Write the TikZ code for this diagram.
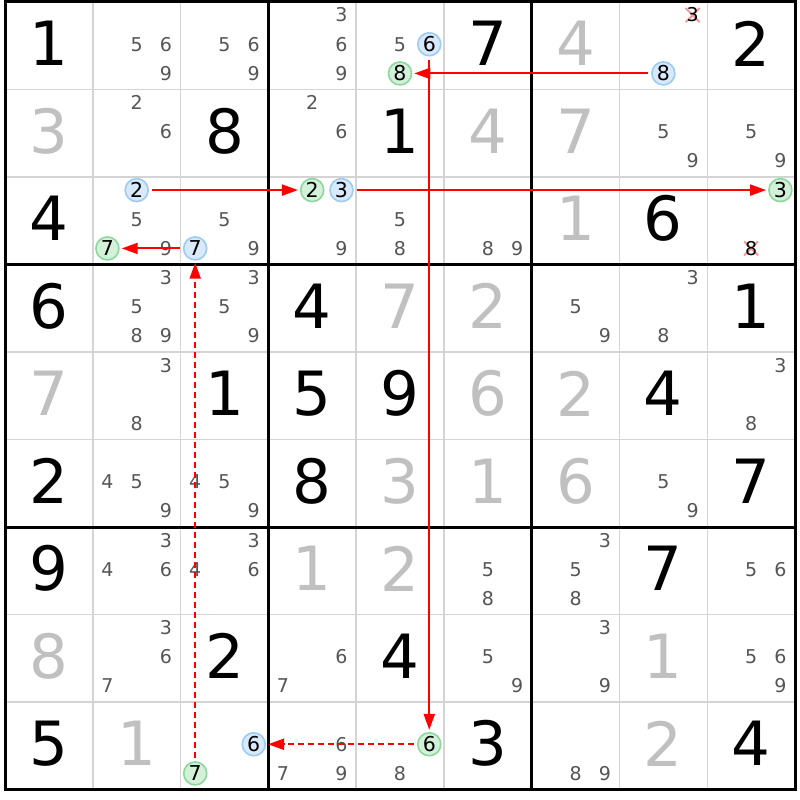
\documentclass[tikz,border=0pt]{standalone}
\usepackage{fontspec}
\setmainfont{DejaVu Sans}
\usetikzlibrary{arrows.meta}
\definecolor{thinc}{HTML}{D4D4D4}
\definecolor{solvedc}{HTML}{C0C0C0}
\definecolor{candc}{HTML}{555555}
\definecolor{bluefill}{HTML}{D7E9FA}
\definecolor{blueline}{HTML}{9CCBF4}
\definecolor{greenfill}{HTML}{D3F1D9}
\definecolor{greenline}{HTML}{8ED79C}
\definecolor{xmarkc}{HTML}{F29A9A}
\definecolor{chainc}{HTML}{FF0000}
\tikzset{
  given/.style={font=\fontsize{61}{61}\selectfont, text=black, inner sep=0pt, yshift=2pt},
  solved/.style={given, text=solvedc},
  cand/.style={font=\fontsize{19}{19}\selectfont, text=candc, inner sep=0pt, yshift=1.5pt},
  bluec/.style={cand, font=\fontsize{20.5}{20.5}\selectfont, text=black, circle, draw=blueline, fill=bluefill, line width=1.6pt, minimum size=23pt},
  greenc/.style={bluec, draw=greenline, fill=greenfill},
  xcand/.style={cand, text=black},
  xmk/.style={draw=xmarkc, line width=2pt},
  thinline/.style={draw=thinc, line width=1.5pt},
  thickline/.style={draw=black, line width=3pt},
  link/.style={draw=chainc, line width=2pt, -{Triangle[length=16pt,width=11pt]}, shorten <=3pt, shorten >=2pt},
  weak/.style={link, dash pattern=on 6pt off 4pt},
}
% cand node: row, col, digit, style, name
\newcommand\cn[5]{\node[#4] (#5) at ({#2-1+(mod(#3-1,3)+0.5)/3},{#1-1+(floor((#3-1)/3)+0.5)/3}) {#3};}
\newcommand\cpos[4]{\coordinate (#4) at ({#2-1+(mod(#3-1,3)+0.5)/3},{#1-1+(floor((#3-1)/3)+0.5)/3});}
\newcommand\cands[3]{\foreach \k in {#3}{\cn{#1}{#2}{\k}{cand}{c#1#2\k}}}
\newcommand\gd[3]{\node[given] (v#1#2) at (#2-0.5,#1-0.5) {#3};}
\newcommand\sd[3]{\node[solved] (v#1#2) at (#2-0.5,#1-0.5) {#3};}
\newcommand\xc[3]{\cpos{#1}{#2}{#3}{p#1#2#3}
  \draw[xmk] ([shift={(-7pt,-5.5pt)}]p#1#2#3) -- ([shift={(7pt,8.5pt)}]p#1#2#3);
  \draw[xmk] ([shift={(-7pt,8.5pt)}]p#1#2#3) -- ([shift={(7pt,-5.5pt)}]p#1#2#3);
  \cn{#1}{#2}{#3}{xcand}{x#1#2#3}}
\begin{document}
\begin{tikzpicture}[x=87.78pt, y=-87.5pt]
\useasboundingbox[fill=white] (0pt,0pt) rectangle (800pt,-800pt);
\begin{scope}[shift={(5pt,-2pt)}]
% grid
\foreach \i in {1,2,4,5,7,8} {
  \draw[thinline] (\i,0) -- (\i,9);
  \draw[thinline] (0,\i) -- (9,\i);
}
\foreach \i in {3,6} {
  \draw[thickline] (\i,0) -- (\i,9);
  \draw[thickline] (0,\i) -- (9,\i);
}
\draw[thickline] (0,0) rectangle (9,9);
% row 1
\gd{1}{1}{1} \cands{1}{2}{5,6,9} \cands{1}{3}{5,6,9} \cands{1}{4}{3,6,9}
\cands{1}{5}{5} \cn{1}{5}{6}{bluec}{n156} \cn{1}{5}{8}{greenc}{n158}
\gd{1}{6}{7} \sd{1}{7}{4}
\xc{1}{8}{3} \cn{1}{8}{8}{bluec}{n188}
\gd{1}{9}{2}
% row 2
\sd{2}{1}{3} \cands{2}{2}{2,6} \gd{2}{3}{8} \cands{2}{4}{2,6} \gd{2}{5}{1}
\sd{2}{6}{4} \sd{2}{7}{7} \cands{2}{8}{5,9} \cands{2}{9}{5,9}
% row 3
\gd{3}{1}{4}
\cn{3}{2}{2}{bluec}{n322} \cands{3}{2}{5,9} \cn{3}{2}{7}{greenc}{n327}
\cands{3}{3}{5,9} \cn{3}{3}{7}{bluec}{n337}
\cn{3}{4}{2}{greenc}{n342} \cn{3}{4}{3}{bluec}{n343} \cands{3}{4}{9}
\cands{3}{5}{5,8} \cands{3}{6}{8,9} \sd{3}{7}{1} \gd{3}{8}{6}
\cn{3}{9}{3}{greenc}{n393} \xc{3}{9}{8}
% row 4
\gd{4}{1}{6} \cands{4}{2}{3,5,8,9} \cands{4}{3}{3,5,9} \gd{4}{4}{4} \sd{4}{5}{7}
\sd{4}{6}{2} \cands{4}{7}{5,9} \cands{4}{8}{3,8} \gd{4}{9}{1}
% row 5
\sd{5}{1}{7} \cands{5}{2}{3,8} \gd{5}{3}{1} \gd{5}{4}{5} \gd{5}{5}{9}
\sd{5}{6}{6} \sd{5}{7}{2} \gd{5}{8}{4} \cands{5}{9}{3,8}
% row 6
\gd{6}{1}{2} \cands{6}{2}{4,5,9} \cands{6}{3}{4,5,9} \gd{6}{4}{8} \sd{6}{5}{3}
\sd{6}{6}{1} \sd{6}{7}{6} \cands{6}{8}{5,9} \gd{6}{9}{7}
% row 7
\gd{7}{1}{9} \cands{7}{2}{3,4,6} \cands{7}{3}{3,4,6} \sd{7}{4}{1} \sd{7}{5}{2}
\cands{7}{6}{5,8} \cands{7}{7}{3,5,8} \gd{7}{8}{7} \cands{7}{9}{5,6}
% row 8
\sd{8}{1}{8} \cands{8}{2}{3,6,7} \gd{8}{3}{2} \cands{8}{4}{6,7} \gd{8}{5}{4}
\cands{8}{6}{5,9} \cands{8}{7}{3,9} \sd{8}{8}{1} \cands{8}{9}{5,6,9}
% row 9
\gd{9}{1}{5} \sd{9}{2}{1}
\cn{9}{3}{6}{bluec}{n936} \cn{9}{3}{7}{greenc}{n937}
\cands{9}{4}{6,7,9}
\cn{9}{5}{6}{greenc}{n956} \cands{9}{5}{8}
\gd{9}{6}{3} \cands{9}{7}{8,9} \sd{9}{8}{2} \gd{9}{9}{4}
% chain
\draw[link] (n188) -- (n158);
\draw[link] (n156) -- (n956);
\draw[weak] (n956) -- (n936);
\draw[weak] (n937) -- (n337);
\draw[link] (n337) -- (n327);
\draw[link] (n322) -- (n342);
\draw[link] (n343) -- (n393);
\end{scope}
\end{tikzpicture}
\end{document}
